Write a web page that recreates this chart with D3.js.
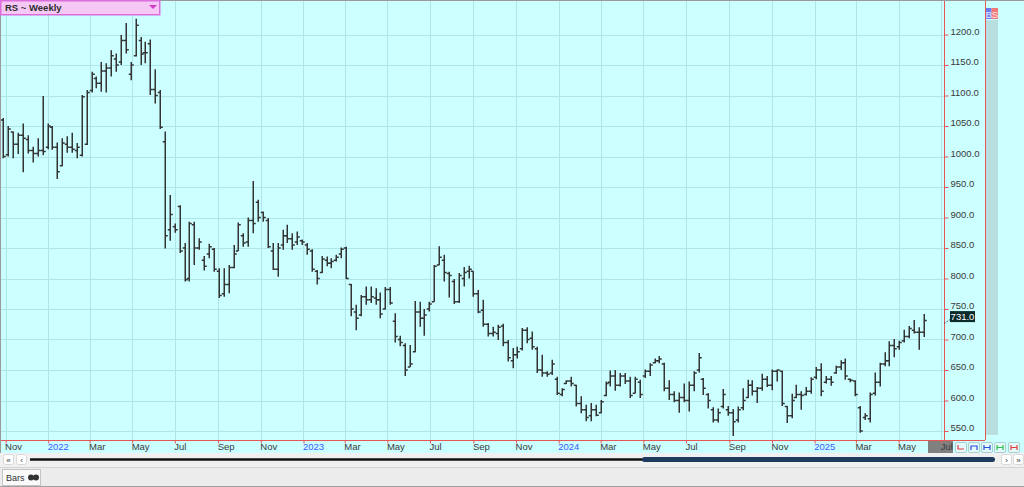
<!DOCTYPE html>
<html><head><meta charset="utf-8">
<script src="https://cdn.jsdelivr.net/npm/d3@7"></script>
<style>body{margin:0;overflow:hidden;background:#fff} svg{display:block} text{font-family:"Liberation Sans",Arial,sans-serif}</style>
</head><body><svg id="c" width="1024" height="487"></svg>
<script>
// ---- data (weekly OHLC, RS) ----
const firstWeek = new Date(2021, 9, 29);
const highs = [1063,1050,1041,1039,1054,1035,1016,1030,1099,1054, 1050,1023,1030,1033,1039,1022,1101,1109,1139,1131,
 1155,1153,1174,1169,1199,1219,1155,1226,1196,1188, 1192,1143,1109,1041,937,890,920,858,893,893,
 866,837,857,850,817,817,822,855,892,874, 900,960,929,910,899,858,858,880,888,874,
 877,864,858,848,814,837,836,833,839,851, 852,791,757,773,787,787,784,777,786,786,
 743,706,694,691,763,762,750,762,822,853, 839,811,799,809,819,821,812,781,765,727,
 721,724,726,699,686,688,719,720,713,688, 675,648,667,639,620,633,639,626,607,593,
 596,593,601,631,649,650,645,645,639,639, 634,651,661,669,673,662,633,615,613,628,
 631,648,678,637,612,589,587,619,591,586, 590,620,634,633,622,644,640,651,651,649,
 591,611,626,615,622,638,655,661,640,640, 657,666,669,636,633,591,579,613,646,662,
 679,697,701,698,716,722,732,720,742];
const lows = [997,1000,997,1004,974,1005,990,1000,1002,1012, 1011,963,984,1006,1006,997,1000,1019,1105,1112,
 1106,1105,1131,1139,1150,1169,1125,1164,1150,1153, 1101,1087,1045,849,862,875,842,795,795,822,
 847,813,833,811,768,770,776,817,845,852, 852,874,893,893,850,814,803,847,858,847,
 855,855,839,811,790,809,820,817,828,833, 799,738,715,738,757,760,757,735,749,757,
 695,689,640,655,679,721,706,746,762,822, 795,769,758,760,787,800,770,743,721,705,
 705,699,689,664,653,669,682,694,683,645, 639,639,642,609,607,627,623,590,579,566,
 566,574,579,607,623,616,623,627,604,612, 604,637,640,661,661,615,601,597,580,597,
 582,615,646,609,587,564,564,587,575,542, 564,584,604,608,596,616,622,617,631,591,
 563,571,604,585,608,611,635,607,628,624, 644,650,634,630,607,547,568,564,608,623,
 656,656,671,683,695,702,710,683,704];
const opens = [1060,1003,1040,1020,1035,1028,1010,1005,1010,1015, 1048,1015,985,1020,1015,1010,1002,1020,1108,1128,
 1120,1140,1145,1160,1155,1190,1135,1165,1190,1170, 1185,1110,1105,1024,880,885,918,850,800,888,
 850,830,840,848,812,775,790,818,845,870, 860,895,925,908,895,845,815,855,870,865,
 860,862,855,845,812,810,830,825,830,840, 850,790,745,740,770,765,768,765,750,782,
 730,700,690,655,680,745,735,750,762,822, 830,808,795,762,800,812,812,775,748,725,
 710,710,722,695,665,675,685,715,702,685, 650,645,645,635,610,628,632,625,595,585,
 575,585,580,608,630,640,625,640,632,612, 630,640,648,662,665,660,620,610,600,605,
 600,625,650,635,610,585,568,590,585,580, 568,588,605,625,615,620,635,625,648,648,
 590,575,605,610,610,615,638,650,630,635, 645,655,662,635,632,588,572,570,612,630,
 660,665,690,688,698,705,715,712,712];
const closes = [1000,1045,1020,1035,1030,1010,1005,1010,1008,1050, 1015,975,1022,1015,1012,1015,1098,1105,1135,1120,
 1140,1145,1165,1150,1190,1175,1150,1215,1168,1170, 1110,1100,1048,870,905,880,845,798,890,850,
 860,820,852,815,772,790,818,840,888,858, 895,890,900,900,852,815,850,870,865,855,
 868,860,848,815,800,832,825,828,835,848, 800,750,735,770,765,770,765,742,782,760,
 705,695,650,660,745,735,740,758,820,835, 810,805,762,805,810,815,775,745,725,710,
 712,720,695,670,675,680,715,700,688,650, 645,643,660,612,618,632,628,595,585,572,
 585,576,598,628,640,625,640,632,608,635, 610,648,658,665,668,620,610,600,605,600,
 625,645,670,620,600,568,580,610,580,565, 585,600,625,615,620,635,625,648,650,595,
 575,600,610,608,615,635,650,615,635,630, 655,662,640,633,610,550,575,610,630,660,
 665,690,685,695,705,718,712,712,731];
const yTicks = [550,600,650,700,750,800,850,900,950,1000,1050,1100,1150,1200];
const monthTicks = ["2021-11","2022-01","2022-03","2022-05","2022-07","2022-09","2022-11",
 "2023-01","2023-03","2023-05","2023-07","2023-09","2023-11",
 "2024-01","2024-03","2024-05","2024-07","2024-09","2024-11",
 "2025-01","2025-03","2025-05","2025-07"];
const lastPrice = 731.0;
const title = "RS ~ Weekly";

// ---- layout ----
const svg = d3.select("#c");
const plotRight = 944, axisY = 440, sideLine = 985;
const x = d3.scaleTime().domain([new Date(2021,9,24), new Date(2025,6,5)]).range([0, plotRight]);
const y = d3.scaleLinear().domain([550,1200]).range([431,34.5]);
const parseM = d3.timeParse("%Y-%m");
const tickDates = monthTicks.map(parseM);
const fmtTick = d => d.getMonth()===0 ? d3.timeFormat("%Y")(d) : d3.timeFormat("%b")(d);

const bars = highs.map((h,i)=>({date:d3.timeWeek.offset(firstWeek,i), h, l:lows[i], o:opens[i], c:closes[i]}));

// backgrounds
svg.append("rect").attr("x",0).attr("y",0).attr("width",1024).attr("height",453).attr("fill","#ccffff");
svg.append("rect").attr("x",0).attr("y",453).attr("width",1024).attr("height",34).attr("fill","#f0f0f0");

// grid
svg.append("g").selectAll("line").data(yTicks).join("line")
  .attr("x1",0).attr("x2",plotRight).attr("y1",d=>Math.round(y(d))+0.5).attr("y2",d=>Math.round(y(d))+0.5)
  .attr("stroke","#ace6e6").attr("stroke-width",1);
svg.append("g").selectAll("line").data(tickDates).join("line")
  .attr("x1",d=>Math.round(x(d))+0.5).attr("x2",d=>Math.round(x(d))+0.5).attr("y1",0).attr("y2",axisY)
  .attr("stroke","#ace6e6").attr("stroke-width",1);

// right side panel
svg.append("rect").attr("x",986).attr("y",20).attr("width",12).attr("height",415).attr("fill","#b8dfdf");
svg.append("rect").attr("x",985.5).attr("y",8).attr("width",6).attr("height",11).attr("fill","#6d7ef2");
svg.append("rect").attr("x",991.5).attr("y",8).attr("width",6.5).attr("height",11).attr("fill","#f27777");
svg.append("text").attr("x",988.6).attr("y",17.5).attr("text-anchor","middle").attr("font-size",9.5).attr("fill","#e8ecff").text("B");
svg.append("text").attr("x",994.8).attr("y",17.5).attr("text-anchor","middle").attr("font-size",9.5).attr("fill","#ffe8e8").text("S");

// OHLC bars
const gBars = svg.append("g").attr("stroke","#333333").attr("stroke-width",1.5).attr("fill","none");
gBars.selectAll("path").data(bars).join("path")
  .attr("d",d=>{
    const cx = Math.round(x(d.date))+0.25;
    return `M${cx},${y(d.h)}V${y(d.l)}M${cx-2.5},${y(d.o)}H${cx}M${cx},${y(d.c)}H${cx+2.5}`;
  });

// red frame lines
svg.append("line").attr("x1",plotRight+0.5).attr("x2",plotRight+0.5).attr("y1",0).attr("y2",axisY).attr("stroke","#e85555");
svg.append("line").attr("x1",sideLine+0.5).attr("x2",sideLine+0.5).attr("y1",0).attr("y2",axisY).attr("stroke","#e85555");
svg.append("line").attr("x1",0).attr("x2",sideLine).attr("y1",axisY+0.5).attr("y2",axisY+0.5).attr("stroke","#e85555");

// y axis
const yAxis = svg.append("g").attr("transform",`translate(${plotRight+0.5},0)`)
  .call(d3.axisRight(y).tickValues(yTicks).tickSize(4).tickFormat(d=>d.toFixed(1)));
yAxis.select(".domain").remove();
yAxis.selectAll(".tick line").attr("stroke","#e85555");
yAxis.selectAll(".tick text").attr("x",6).attr("dy","-0.05em").attr("font-size",9.5)
  .attr("font-family","'Liberation Sans',Arial,sans-serif").attr("fill","#3a3a3a");

// bottom-right gray box behind last tick
svg.append("rect").attr("x",928).attr("y",441).attr("width",25).attr("height",12).attr("fill","#808080");

// x axis
const xAxis = svg.append("g").attr("transform",`translate(0,${axisY+0.5})`)
  .call(d3.axisBottom(x).tickValues(tickDates).tickSize(3).tickFormat(fmtTick));
xAxis.select(".domain").remove();
xAxis.selectAll(".tick line").attr("stroke","#e85555");
xAxis.selectAll(".tick text").attr("text-anchor","start").attr("x",-1).attr("y",3).attr("dy","0.71em")
  .attr("font-size",9.5).attr("font-family","'Liberation Sans',Arial,sans-serif")
  .attr("fill",d=>d.getMonth()===0?"#3b5bff":"#3a3a3a");

// last price label
const ly = y(lastPrice);
svg.append("line").attr("x1",plotRight).attr("x2",950).attr("y1",ly+3).attr("y2",ly-1).attr("stroke","#335").attr("stroke-dasharray","1,1");
svg.append("rect").attr("x",950).attr("y",ly-9.5).attr("width",25).attr("height",11).attr("fill","#0c2c2c");
svg.append("text").attr("x",962.5).attr("y",ly-0.5).attr("text-anchor","middle").attr("font-size",9.5).attr("fill","#ffffff").text(lastPrice.toFixed(1));

// small toolbar buttons bottom right
const btnCols = ["#e23c3c","#2b4de0","#2b4de0","#2ec04a","#e23c3c"];
const btnX = [955,968,981,994,1008];
const gb = svg.append("g");
btnX.forEach((bx,i)=>{
  gb.append("rect").attr("x",bx+0.5).attr("y",442.5).attr("width",11).attr("height",10).attr("rx",1.5)
    .attr("fill","#e4fafa").attr("stroke","#a9cfcf");
  const c = btnCols[i];
  let d;
  if(i===0) d=`M${bx+3},${445}V${449}H${bx+9}`;
  else if(i===1) d=`M${bx+3},${450}V${446}H${bx+9}V${450}`;
  else d=`M${bx+3},${445}V${450}M${bx+9},${445}V${450}M${bx+3},${447.5}H${bx+9}`;
  gb.append("path").attr("d",d).attr("fill","none").attr("stroke",c).attr("stroke-width",1.2);
});

// scroll row
const btn = (bx,by,label)=>{
  svg.append("rect").attr("x",bx+0.5).attr("y",by+0.5).attr("width",10).attr("height",10).attr("rx",2).attr("fill","#fff").attr("stroke","#d8d8d8");
  svg.append("text").attr("x",bx+5.5).attr("y",by+8.5).attr("text-anchor","middle").attr("font-size",8).attr("fill","#333").text(label);
};
btn(3,454,"«"); btn(16,454,"‹"); btn(1001,454,"›"); btn(1013,454,"»");
svg.append("line").attr("x1",30).attr("x2",645).attr("y1",459.5).attr("y2",459.5).attr("stroke","#111").attr("stroke-width",2.5);
svg.append("rect").attr("x",642).attr("y",457).attr("width",353).attr("height",5).attr("rx",2.5).attr("fill","#1f3c5e");

// tab row
svg.append("line").attr("x1",0).attr("x2",1024).attr("y1",467.5).attr("y2",467.5).attr("stroke","#d4d4d4");
svg.append("rect").attr("x",0).attr("y",468).attr("width",1024).attr("height",18).attr("fill","#ececec");
svg.append("rect").attr("x",2.5).attr("y",469.5).attr("width",38).attr("height",16).attr("fill","#fafafa").attr("stroke","#c4c4c4");
svg.append("text").attr("x",6).attr("y",481).attr("font-size",9).attr("fill","#333").text("Bars");
svg.append("circle").attr("cx",31).attr("cy",477.5).attr("r",3).attr("fill","#333");
svg.append("circle").attr("cx",36).attr("cy",477.5).attr("r",3).attr("fill","#333");
svg.append("line").attr("x1",0).attr("x2",1024).attr("y1",486.5).attr("y2",486.5).attr("stroke","#a0a0a0");

// borders
svg.append("line").attr("x1",0).attr("x2",1024).attr("y1",0.5).attr("y2",0.5).attr("stroke","#9a9a9a");
svg.append("line").attr("x1",0.5).attr("x2",0.5).attr("y1",0).attr("y2",453).attr("stroke","#9a9a9a");

// title box
svg.append("rect").attr("x",0.75).attr("y",0.75).attr("width",159).attr("height",14).attr("fill","#f6c8f6").attr("stroke","#dc6ddc").attr("stroke-width",1.5);
svg.append("text").attr("x",5).attr("y",11).attr("font-size",9.5).attr("font-weight","bold").attr("fill","#2d2d2d").text(title);
svg.append("path").attr("d","M149,5H157L153,9Z").attr("fill","#d23cc8");
</script></body></html>
